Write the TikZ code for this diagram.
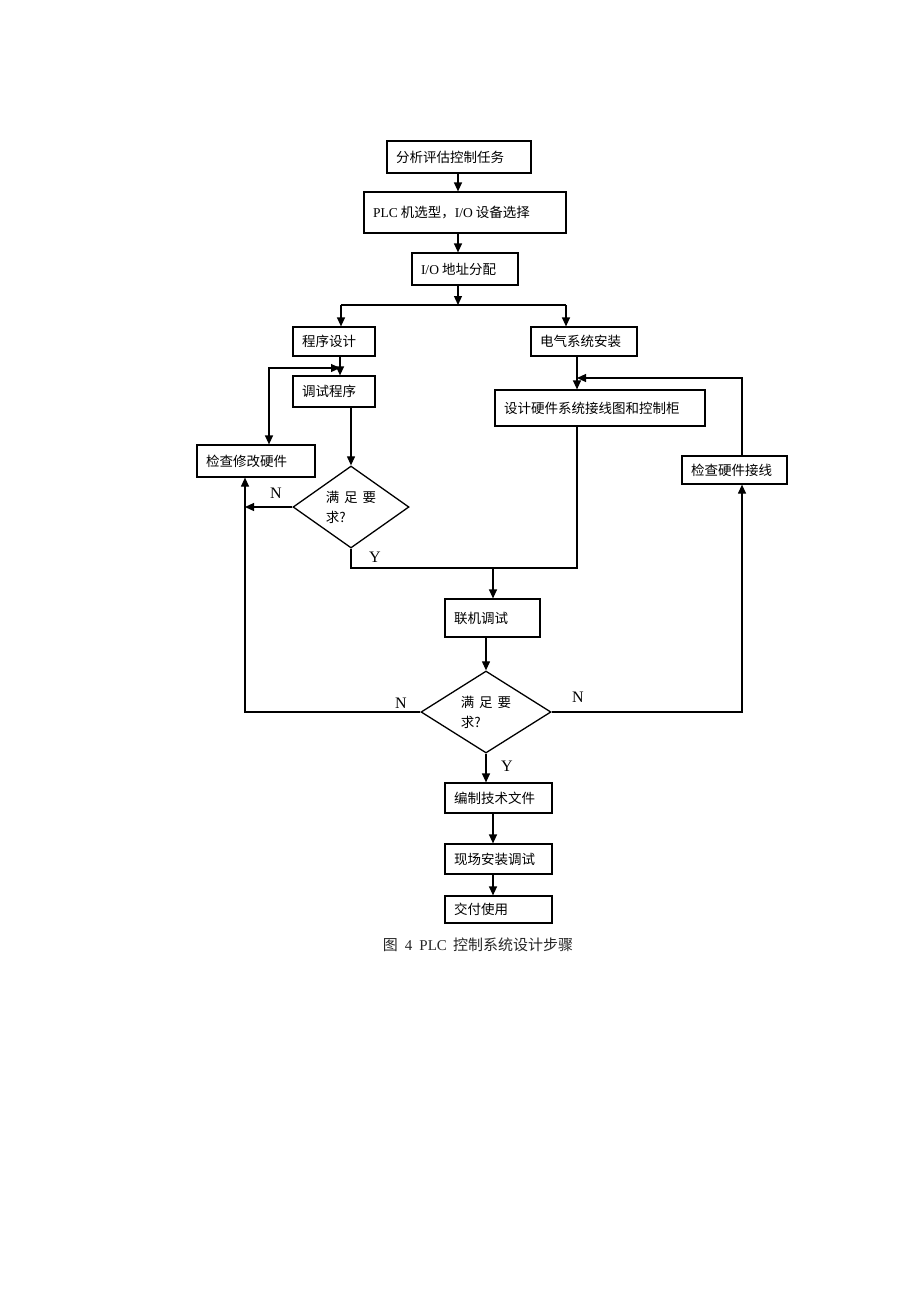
\documentclass[tikz,border=0pt]{standalone}
\usepackage{fontspec}
\setmainfont{Liberation Serif}
\newfontfamily\cjk{Noto Sans CJK SC}
\newfontfamily\labfont{Liberation Serif}
\usetikzlibrary{arrows.meta,shapes.geometric,calc}
\newcommand\cjkfs{\cjk\fontsize{13.5}{20}\selectfont}
\newcommand\boxtxt[2]{\makebox[\dimexpr#1pt-18pt\relax][l]{#2}}
\begin{document}
\begin{tikzpicture}[x=1pt,y=-1pt,
  ln/.style={line width=1.2pt},
  arr/.style={line width=1.2pt,-{Triangle[length=9pt,width=8pt]}},
  arrb/.style={line width=1.2pt,{Triangle[length=9pt,width=8pt]}-{Triangle[length=9pt,width=8pt]}},
  box/.style={draw,line width=1.2pt,inner xsep=9pt,inner ysep=0pt,font=\cjkfs},
  dia/.style={diamond,draw,line width=1.3pt,inner sep=0pt,aspect=1.41,align=left,font=\cjkfs},
  lab/.style={font=\labfont\fontsize{16}{18}\selectfont,inner sep=0pt}]
\useasboundingbox (0,0) rectangle (920,1302);
% boxes
\node[box,minimum height=32pt] (b1) at (459,157) {\boxtxt{144}{分析评估控制任务}};
\node[box,minimum height=41pt] (b2) at (465,212.5) {\boxtxt{202}{{\rmfamily PLC} 机选型，{\rmfamily I/O} 设备选择}};
\node[box,minimum height=32pt] (b3) at (465,269) {\boxtxt{106}{{\rmfamily I/O} 地址分配}};
\node[box,minimum height=29pt] (b4) at (334,341.5) {\boxtxt{82}{程序设计}};
\node[box,minimum height=29pt] (b5) at (584,341.5) {\boxtxt{106}{电气系统安装}};
\node[box,minimum height=31pt] (b6) at (334,391.5) {\boxtxt{82}{调试程序}};
\node[box,minimum height=32pt] (b7) at (256,461) {\boxtxt{118}{检查修改硬件}};
\node[box,minimum height=36pt] (b8) at (600,408) {\boxtxt{210}{设计硬件系统接线图和控制柜}};
\node[box,minimum height=28pt] (b9) at (734.5,470) {\boxtxt{105}{检查硬件接线}};
\node[box,minimum height=38pt] (b10) at (492.5,618) {\boxtxt{95}{联机调试}};
\node[box,minimum height=30pt] (b11) at (498.5,798) {\boxtxt{107}{编制技术文件}};
\node[box,minimum height=30pt] (b12) at (498.5,859) {\boxtxt{107}{现场安装调试}};
\node[box,minimum height=27pt] (b13) at (498.5,909.5) {\boxtxt{107}{交付使用}};
% diamonds
\node[dia,minimum width=116pt,minimum height=82pt] (d1) at (351,507) {满\hspace{5pt}足\hspace{5pt}要\\求?};
\node[dia,minimum width=130pt,minimum height=82pt] (d2) at (486,712) {满\hspace{5pt}足\hspace{5pt}要\\求?};
% coordinates
\coordinate (s) at (458,305);
\coordinate (sl) at (341,305);
\coordinate (sr) at (566,305);
\coordinate (v1) at (340,368);
\coordinate (v2) at (269,368);
\coordinate (nl) at (245,507);
\coordinate (ll) at (245,713);
\coordinate (r) at (577,568);
\coordinate (m) at (493,568);
\coordinate (rr) at (742,378);
\coordinate (v5) at (493,850);
% connectors
\draw[arr] (s |- b1.south) -- (s |- b2.north);
\draw[arr] (s |- b2.south) -- (s |- b3.north);
\draw[arr] (s |- b3.south) -- (s);
\draw[ln] (sl) -- (sr);
\draw[arr] (sl) -- (sl |- b4.north);
\draw[arr] (sr) -- (sr |- b5.north);
\draw[arr] (v1 |- b4.south) -- (v1 |- b6.north);
\draw[arrb] (v1) -- (v2) -- (v2 |- b7.north);
\draw[arr] (d1.north |- b6.south) -- (d1.north);
\draw[arr] (d1.west) -- (nl);
\draw[arr] (d2.west) -- (d2.west -| ll) -- (ll |- b7.south);
\draw[ln] (d1.south) |- (r) -- (r |- b8.south);
\draw[arr] (m) -- (m |- b10.north);
\draw[arr] (r |- b5.south) -- (r |- b8.north);
\draw[arr] (rr |- b9.north) -- (rr) -- (rr -| r);
\draw[arr] (d2.east) -- (d2.east -| rr) -- (rr |- b9.south);
\draw[arr] (d2.north |- b10.south) -- (d2.north);
\draw[arr] (d2.south) -- (d2.south |- b11.north);
\draw[arr] (v5 |- b11.south) -- (v5 |- b12.north);
\draw[arr] (v5 |- b12.south) -- (v5 |- b13.north);
% labels
\node[lab] (n1) at (276,493) {N};
\node[lab] (y1) at (375,557) {Y};
\node[lab] (n2) at (401,703) {N};
\node[lab] (n3) at (578,697) {N};
\node[lab] (y2) at (507,766) {Y};
% caption
\node[font=\cjk\fontsize{15}{18}\selectfont,inner sep=0pt,text=black!85] (cap) at (478,945) {图\hspace{7pt}{\labfont 4}\hspace{7pt}{\labfont PLC}\hspace{6pt}控制系统设计步骤};
\end{tikzpicture}
\end{document}
